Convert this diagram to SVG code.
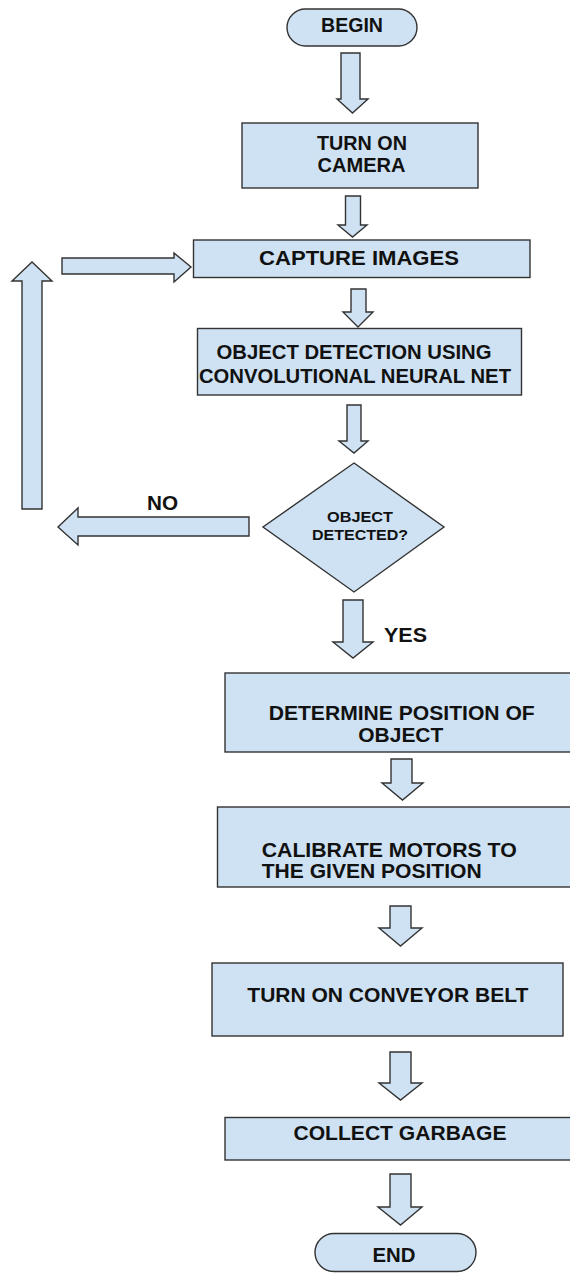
<svg xmlns="http://www.w3.org/2000/svg" width="570" height="1273" viewBox="0 0 570 1273">
<style>
.s{fill:#cfe2f3;stroke:#333;stroke-width:1.4}
.t{font-family:"Liberation Sans",Arial,sans-serif;font-weight:bold;font-size:20px;fill:#111;text-anchor:middle}
.l{text-anchor:start}
.d{font-size:15.5px}
</style>
<rect width="570" height="1273" fill="#fff"/>
<g id="connectors">
<polygon class="s" points="341,53 360,53 360,99 368,99 352.5,113 337,99 341,99"/>
<polygon class="s" points="345.5,196 360.5,196 360.5,225 367,225 352.5,237 338,225 345.5,225"/>
<polygon class="s" points="351,289 366,289 366,312 373,312 358,327 343,312 351,312"/>
<polygon class="s" points="347,405 361,405 361,441 368,441 354,453 339,441 347,441"/>
<polygon class="s" points="343,600 363,600 363,642 373,642 353,658 333,642 343,642"/>
<polygon class="s" points="391,759 412,759 412,783 423,783 402.5,800 382,783 391,783"/>
<polygon class="s" points="390,906 411,906 411,928 422,928 400.5,946 379,928 390,928"/>
<polygon class="s" points="390,1052 411,1052 411,1083 422,1083 400.5,1100 379,1083 390,1083"/>
<polygon class="s" points="390,1174 411,1174 411,1207 422,1207 400.5,1225 378,1207 390,1207"/>
<polygon class="s" points="249,517 249,536 78,536 78,545 58,527 78,508 78,517"/>
<polygon class="s" points="22,509 42,509 42,281 52,281 32,262 12,281 22,281"/>
<polygon class="s" points="62,258 174,258 174,253 191,267 174,282 174,274 62,274"/>
<text class="t" x="162.5" y="510" textLength="31" lengthAdjust="spacingAndGlyphs">NO</text>
<text class="t l" x="384" y="641.5" textLength="43" lengthAdjust="spacingAndGlyphs">YES</text>
</g>
<g id="begin">
<rect class="s" x="287" y="9" width="130" height="37" rx="18.5"/>
<text class="t" x="352" y="32" textLength="62" lengthAdjust="spacingAndGlyphs">BEGIN</text>
</g>
<g id="camera">
<rect class="s" x="242" y="123" width="236" height="65"/>
<text class="t" x="362" y="150" textLength="90" lengthAdjust="spacingAndGlyphs">TURN ON</text>
<text class="t" x="361.5" y="171.5" textLength="88" lengthAdjust="spacingAndGlyphs">CAMERA</text>
</g>
<g id="capture">
<rect class="s" x="193.5" y="240" width="336.5" height="37.5"/>
<text class="t" x="359" y="265" textLength="200" lengthAdjust="spacingAndGlyphs" style="font-size:21px">CAPTURE IMAGES</text>
</g>
<g id="detection">
<rect class="s" x="197.5" y="328.5" width="324" height="66.5"/>
<text class="t" x="354" y="359.3" textLength="275" lengthAdjust="spacingAndGlyphs">OBJECT DETECTION USING</text>
<text class="t" x="355" y="383.3" textLength="312" lengthAdjust="spacingAndGlyphs">CONVOLUTIONAL NEURAL NET</text>
</g>
<g id="decision">
<polygon class="s" points="354,463 444,527 354,592 263,527"/>
<text class="t d" x="360" y="521.7" textLength="66" lengthAdjust="spacingAndGlyphs">OBJECT</text>
<text class="t d" x="360" y="540" textLength="96" lengthAdjust="spacingAndGlyphs">DETECTED?</text>
</g>
<g id="position">
<rect class="s" x="225" y="673" width="360" height="79"/>
<text class="t" x="401.7" y="720" textLength="266" lengthAdjust="spacingAndGlyphs">DETERMINE POSITION OF</text>
<text class="t" x="400.8" y="742.3" textLength="85" lengthAdjust="spacingAndGlyphs">OBJECT</text>
</g>
<g id="calibrate">
<rect class="s" x="217.5" y="807" width="370" height="80"/>
<text class="t l" x="261.7" y="856.7" textLength="255" lengthAdjust="spacingAndGlyphs">CALIBRATE MOTORS TO</text>
<text class="t l" x="261.7" y="878.3" textLength="220" lengthAdjust="spacingAndGlyphs">THE GIVEN POSITION</text>
</g>
<g id="conveyor">
<rect class="s" x="212" y="963" width="351" height="73"/>
<text class="t" x="387.8" y="1001.7" textLength="281" lengthAdjust="spacingAndGlyphs">TURN ON CONVEYOR BELT</text>
</g>
<g id="collect">
<rect class="s" x="225" y="1117.5" width="360" height="42.5"/>
<text class="t" x="400" y="1140" textLength="213" lengthAdjust="spacingAndGlyphs">COLLECT GARBAGE</text>
</g>
<g id="end">
<rect class="s" x="315" y="1233.5" width="161" height="38" rx="19"/>
<text class="t" x="394" y="1261.7" textLength="43" lengthAdjust="spacingAndGlyphs">END</text>
</g>
</svg>
